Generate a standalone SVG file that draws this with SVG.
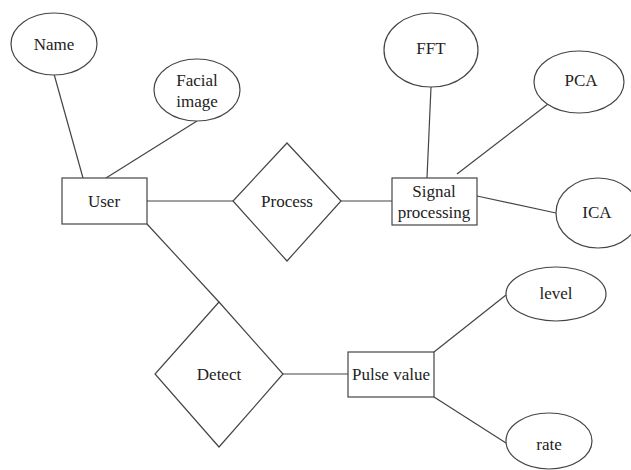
<svg xmlns="http://www.w3.org/2000/svg" width="631" height="470" viewBox="0 0 631 470">
<style>
.s{fill:#fff;stroke:#444;stroke-width:1.2}
.c line{stroke:#444;stroke-width:1.2}
</style>
<rect width="631" height="470" fill="#fff"/>
<g id="connectors" class="c">
<line x1="54" y1="74" x2="83" y2="178"/>
<line x1="197" y1="121" x2="106" y2="178"/>
<line x1="147" y1="201" x2="233" y2="201"/>
<line x1="341" y1="201" x2="392" y2="201"/>
<line x1="431" y1="87" x2="427" y2="178"/>
<line x1="548" y1="104" x2="457" y2="174"/>
<line x1="477" y1="196" x2="556" y2="213"/>
<line x1="147" y1="224" x2="219" y2="302"/>
<line x1="283" y1="374" x2="348" y2="374"/>
<line x1="434" y1="352" x2="506" y2="295"/>
<line x1="434" y1="397" x2="506" y2="443"/>
</g>
<g font-family="'Liberation Serif', 'Times New Roman', serif" font-size="17px" fill="#222" text-anchor="middle">
<g id="name"><ellipse class="s" cx="54" cy="44" rx="43" ry="31"/><text x="54" y="50">Name</text></g>
<g id="facial"><ellipse class="s" cx="197" cy="90" rx="43" ry="31"/><text x="197" y="86">Facial</text><text x="197" y="107">image</text></g>
<g id="user"><rect class="s" x="62" y="178" width="85" height="46"/><text x="104" y="207">User</text></g>
<g id="process"><polygon class="s" points="287,143 341,201 287,261 233,201"/><text x="287" y="207">Process</text></g>
<g id="signal"><rect class="s" x="392" y="178" width="85" height="47"/><text x="434" y="197">Signal</text><text x="434" y="218">processing</text></g>
<g id="fft"><ellipse class="s" cx="431" cy="50" rx="47" ry="37"/><text x="431" y="54">FFT</text></g>
<g id="pca"><ellipse class="s" cx="579" cy="82" rx="45" ry="31"/><text x="581" y="86">PCA</text></g>
<g id="ica"><ellipse class="s" cx="598" cy="213" rx="42" ry="35"/><text x="597" y="218">ICA</text></g>
<g id="detect"><polygon class="s" points="219,302 283,374 219,447 155,374"/><text x="219" y="380">Detect</text></g>
<g id="pulse"><rect class="s" x="348" y="352" width="86" height="45"/><text x="391" y="380">Pulse value</text></g>
<g id="level"><ellipse class="s" cx="556" cy="294" rx="50" ry="27"/><text x="556" y="299">level</text></g>
<g id="rate"><ellipse class="s" cx="549" cy="441" rx="43" ry="28"/><text x="549" y="450">rate</text></g>
</g>
</svg>
